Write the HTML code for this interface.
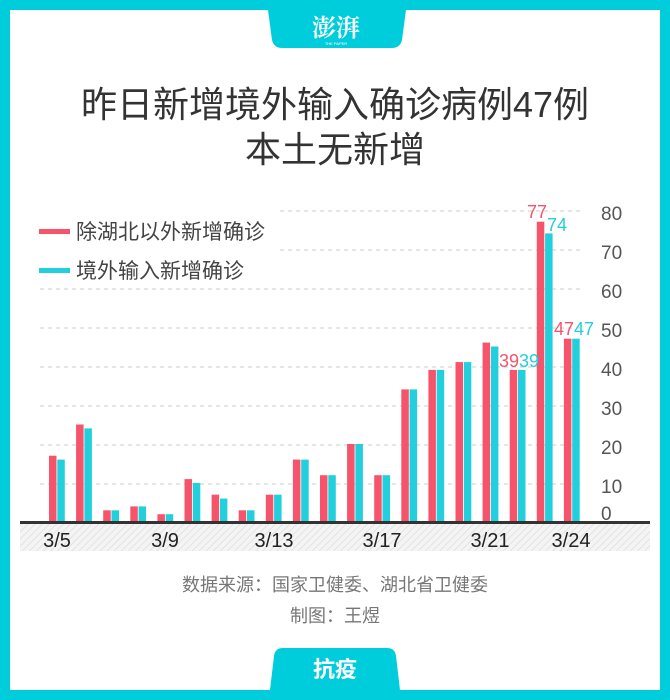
<!DOCTYPE html>
<html><head><meta charset="utf-8"><style>
body{margin:0;width:670px;height:700px;background:#00CDDC;font-family:"Liberation Sans","Noto Sans CJK SC",sans-serif;overflow:hidden}
.card{position:absolute;left:10px;top:10px;width:650px;height:680px;background:#fff}
</style></head><body>
<div class="card"></div>
<svg width="670" height="700" style="position:absolute;left:0;top:0" font-family="Liberation Sans, Noto Sans CJK SC, sans-serif">
<defs><pattern id="h" width="5" height="5" patternUnits="userSpaceOnUse" patternTransform="rotate(45)"><rect width="5" height="5" fill="#f4f4f4"/><line x1="0" y1="0" x2="0" y2="5" stroke="#ddd" stroke-width="1.5"/></pattern></defs>
<path d="M268 10 H406 L402 40 Q400 48 392 48 H282 Q274 48 272 40 Z" fill="#00CDDC"/>
<text x="336" y="36" text-anchor="middle" font-size="24" fill="#fff" font-family="Noto Serif CJK SC, serif" font-weight="bold">澎湃</text>
<text x="336" y="45" text-anchor="middle" font-size="4" fill="#fff">THE PAPER</text>
<text x="335" y="117" text-anchor="middle" font-size="36" fill="#333">昨日新增境外输入确诊病例47例</text>
<text x="335" y="162" text-anchor="middle" font-size="36" fill="#333">本土无新增</text>
<g stroke="#ccc" stroke-dasharray="4,4" stroke-width="1">
<line x1="40" x2="583" y1="211" y2="211"/><line x1="40" x2="583" y1="250" y2="250"/><line x1="40" x2="583" y1="289" y2="289"/><line x1="40" x2="583" y1="328" y2="328"/><line x1="40" x2="583" y1="367" y2="367"/><line x1="40" x2="583" y1="406" y2="406"/><line x1="40" x2="583" y1="445" y2="445"/><line x1="40" x2="583" y1="484" y2="484"/>
</g>
<rect x="40" y="194" width="240" height="90" fill="#fff"/>
<rect x="39" y="229" width="31" height="5" fill="#F5546A"/>
<text x="76" y="239" font-size="21" fill="#444">除湖北以外新增确诊</text>
<rect x="39" y="268" width="31" height="5" fill="#22D0DD"/>
<text x="76" y="278" font-size="21" fill="#444">境外输入新增确诊</text>
<g font-size="19" fill="#555">
<text x="601" y="220">80</text><text x="601" y="259">70</text><text x="601" y="298">60</text><text x="601" y="337">50</text><text x="601" y="376">40</text><text x="601" y="415">30</text><text x="601" y="454">20</text><text x="601" y="493">10</text><text x="601" y="520">0</text>
</g>
<g id="bars"></g>
<rect x="20" y="524" width="630" height="27" fill="url(#h)"/>
<rect x="20" y="521" width="630" height="3" fill="#333"/>
<g font-size="20" fill="#222" text-anchor="middle">
<text x="57" y="547">3/5</text><text x="165" y="547">3/9</text><text x="274" y="547">3/13</text><text x="382" y="547">3/17</text><text x="490" y="547">3/21</text><text x="571" y="547">3/24</text>
</g>
<text x="335" y="591" text-anchor="middle" font-size="18" fill="#777">数据来源：国家卫健委、湖北省卫健委</text>
<text x="335" y="622" text-anchor="middle" font-size="18" fill="#777">制图：王煜</text>
<path d="M270 690 H400 L396 656 Q395 648 387 648 H283 Q275 648 274 656 Z" fill="#00CDDC"/>
<text x="335" y="677" text-anchor="middle" font-size="22" fill="#fff" font-weight="bold">抗疫</text>
<g font-size="18" text-anchor="middle">
<text x="537" y="218" fill="#F5546A">77</text><text x="557" y="231" fill="#22D0DD">74</text>
<text x="509" y="367" fill="#F5546A">39</text><text x="529" y="367" fill="#22D0DD">39</text>
<text x="564" y="335" fill="#F5546A">47</text><text x="584" y="335" fill="#22D0DD">47</text>
</g>
</svg>
<script>
var r=[17,25,3,4,2,11,7,3,7,16,12,20,12,34,39,41,46,39,77,47],c=[16,24,3,4,2,10,6,3,7,16,12,20,12,34,39,41,45,39,74,47];
var g=document.getElementById('bars'),s='';
for(var i=0;i<20;i++){var x=49+i*27.1;
s+='<rect x="'+x+'" y="'+(522-r[i]*3.9)+'" width="7.5" height="'+(r[i]*3.9)+'" fill="#F5546A"/>';
s+='<rect x="'+(x+8.3)+'" y="'+(522-c[i]*3.9)+'" width="7.5" height="'+(c[i]*3.9)+'" fill="#22D0DD"/>';}
g.innerHTML=s;
</script>
</body></html>
